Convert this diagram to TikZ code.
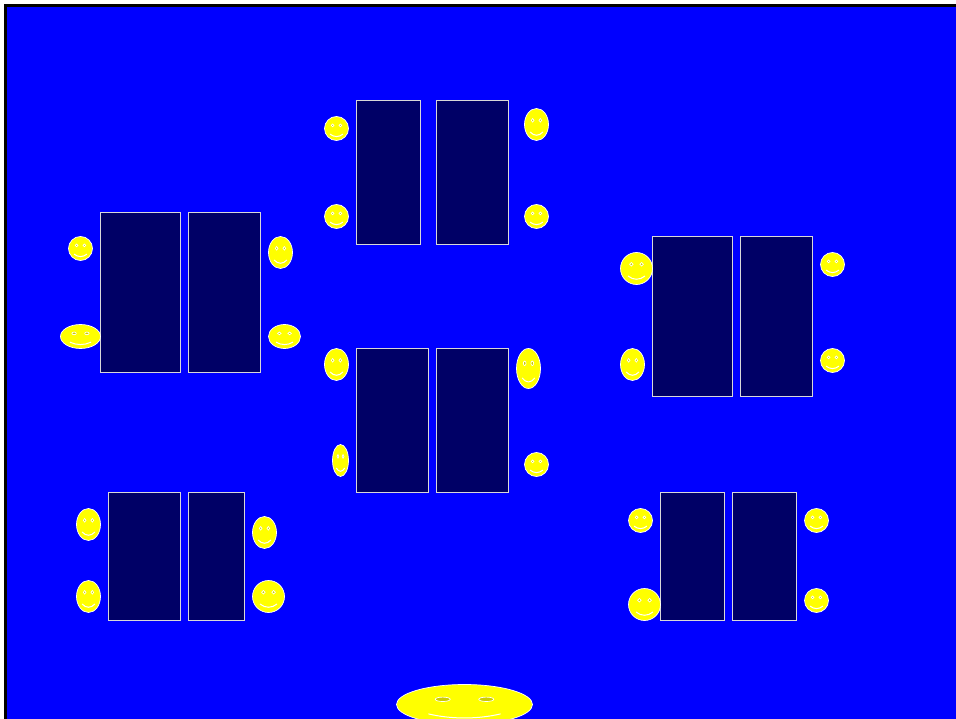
\documentclass[tikz,border=0pt]{standalone}
\usepackage{xcolor}
\usepackage{tikz}
\usetikzlibrary{positioning}
\definecolor{roomblue}{HTML}{0000FF}
\definecolor{desknavy}{HTML}{000066}
\definecolor{faceyellow}{HTML}{FFFF00}
\definecolor{eyeyellow}{HTML}{CCCC00}
\tikzset{
  desk/.style={draw=white!85!black, fill=desknavy, line width=0.8pt, inner sep=0pt},
  face/.pic={
    \fill[faceyellow, draw=white, line width=0.7pt] (0,0) circle (1);
    \filldraw[draw=white, fill=eyeyellow, line width=0.7pt] (-0.32,-0.26) circle (0.11);
    \filldraw[draw=white, fill=eyeyellow, line width=0.7pt] (0.32,-0.26) circle (0.11);
    \draw[white, line width=1pt] (-0.53,0.47) .. controls (-0.2,0.74) and (0.2,0.74) .. (0.53,0.47);
  }
}
\begin{document}
\begin{tikzpicture}[x=1pt, y=-1pt]
\useasboundingbox (0,0) rectangle (956,719);
\clip (0,0) rectangle (956,719);
\fill[roomblue] (5.5,5.5) rectangle (956,719);
\draw[black, line width=3pt] (5.5,719) -- (5.5,5.5) -- (956,5.5);
% desks
\foreach \n/\l/\t/\r/\b in {a/356/100/420/244, b/436/100/508/244, c/100/212/180/372, d/188/212/260/372,
  e/652/236/732/396, f/740/236/812/396, g/356/348/428/492, h/436/348/508/492,
  i/108/492/180/620, j/188/492/244/620, k/660/492/724/620, m/732/492/796/620}
  \node[desk, minimum width={(\r-\l)*1pt}, minimum height={(\b-\t)*1pt}] (desk\n) at ({(\l+\r)/2},{(\t+\b)/2}) {};
% faces, left/top/right/bottom
\foreach \l/\t/\r/\b in {324/116/348/140, 524/108/548/140, 324/204/348/228, 524/204/548/228,
  68/236/92/260, 268/236/292/268, 60/324/100/348, 268/324/300/348,
  620/252/652/284, 820/252/844/276, 620/348/644/380, 820/348/844/372,
  324/348/348/380, 516/348/540/388, 332/444/348/476, 524/452/548/476,
  76/508/100/540, 252/516/276/548, 76/580/100/612, 252/580/284/612,
  628/508/652/532, 804/508/828/532, 628/588/660/620, 804/588/828/612,
  396/684/532/724}
  \pic[xscale={(\r-\l)/2}, yscale={(\b-\t)/2}] at ({(\l+\r)/2+0.5},{(\t+\b)/2+0.5}) {face};
\end{tikzpicture}
\end{document}
